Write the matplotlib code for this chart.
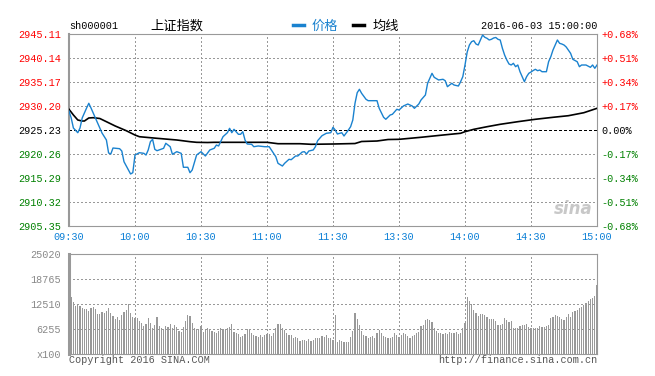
import numpy as np
import matplotlib.pyplot as plt
from matplotlib.lines import Line2D

plt.rcParams['font.family'] = ['Liberation Mono', 'Noto Sans CJK SC', 'DejaVu Sans']

prev_close = 2925.23

# minute index (0 = 09:30, 120 = 11:30/13:00, 240 = 15:00) and price
price_min = [0, 1, 2, 4, 5, 6, 8, 9, 10, 12, 15, 17, 18, 19, 20, 23, 24, 25, 27, 28,
             29, 30, 32, 34, 35, 36, 37, 38, 39, 40, 43, 44, 46, 47, 49, 51, 52, 54, 55, 56,
             58, 60, 62, 64, 66, 67, 68, 70, 72, 73, 74, 75, 77, 78, 79, 80, 81, 83, 84, 86,
             89, 91, 92, 94, 95, 97, 98, 100, 101, 103, 104, 106, 107, 108, 109, 111, 112, 113, 115, 117,
             119, 120, 121, 122, 124, 125, 127, 128, 129, 130, 131, 132, 133, 135, 136, 138, 140, 141, 143, 144,
             146, 147, 149, 150, 152, 154, 156, 157, 159, 160, 162, 163, 165, 166, 168, 170, 171, 172, 174, 175,
             177, 178, 179, 180, 181, 182, 183, 184, 185, 186, 187, 188, 189, 190, 191, 192, 193, 194, 195, 196,
             197, 198, 199, 200, 201, 202, 203, 204, 205, 206, 207, 208, 209, 210, 211, 212, 213, 214, 215, 217,
             218, 219, 220, 221, 222, 223, 224, 225, 226, 228, 229, 231, 232, 233, 235, 237, 238, 239, 240]
price = [2929.16, 2927.72, 2925.64, 2924.67, 2925.64, 2927.72, 2929.79, 2930.76, 2929.79, 2927.72,
         2924.61, 2923.16, 2920.47, 2920.26, 2921.50, 2921.36, 2920.88, 2918.66, 2916.95, 2916.12,
         2916.39, 2920.05, 2920.53, 2920.40, 2920.05, 2921.09, 2922.81, 2923.30, 2921.23, 2920.94,
         2921.44, 2922.48, 2921.77, 2920.20, 2920.74, 2920.40, 2917.51, 2917.51, 2916.39, 2916.95,
         2920.05, 2920.74, 2919.85, 2921.09, 2921.44, 2922.12, 2921.92, 2923.84, 2924.67, 2925.58,
         2924.67, 2925.37, 2924.34, 2924.34, 2924.88, 2923.16, 2922.33, 2922.27, 2921.77, 2921.92,
         2921.77, 2921.77, 2921.09, 2919.70, 2918.33, 2917.77, 2918.33, 2919.16, 2919.08, 2919.85,
         2919.85, 2920.67, 2920.74, 2920.26, 2920.88, 2921.09, 2921.77, 2923.01, 2924.05, 2924.55,
         2924.67, 2925.79, 2925.23, 2924.40, 2924.67, 2923.99, 2925.23, 2925.91, 2927.30, 2930.76,
         2932.95, 2933.66, 2932.83, 2931.59, 2931.30, 2931.30, 2931.30, 2929.72, 2927.86, 2927.45,
         2928.34, 2928.48, 2929.52, 2929.37, 2930.20, 2930.61, 2930.20, 2929.72, 2930.61, 2931.44,
         2932.48, 2934.90, 2936.97, 2936.14, 2935.59, 2935.73, 2935.44, 2934.20, 2934.90, 2934.55,
         2934.34, 2935.23, 2936.27, 2938.69, 2941.38, 2942.83, 2943.52, 2943.72, 2943.04, 2942.83,
         2943.87, 2944.90, 2944.43, 2944.22, 2943.87, 2944.01, 2944.28, 2944.39, 2944.01, 2943.87,
         2942.15, 2940.76, 2939.73, 2938.90, 2938.69, 2939.04, 2938.34, 2938.69, 2937.30, 2936.27,
         2935.23, 2936.27, 2936.97, 2937.24, 2937.55, 2937.80, 2937.51, 2937.65, 2937.30, 2937.30,
         2939.37, 2940.41, 2941.80, 2942.83, 2943.87, 2943.18, 2943.04, 2942.83, 2942.42, 2941.11,
         2939.87, 2939.37, 2938.34, 2938.69, 2938.69, 2938.21, 2938.69, 2938.01, 2938.68]

avg_min = [0, 2, 4, 6, 7, 9, 11, 14, 17, 21, 26, 30, 32, 40, 49, 55, 58, 63, 66, 90,
           95, 105, 110, 120, 130, 133, 140, 145, 150, 160, 170, 178, 180, 184, 190, 196, 204, 212, 220, 227,
           234, 240]
avg_price = [2929.52, 2928.34, 2927.30, 2927.09, 2927.09, 2927.72, 2927.78, 2927.61, 2926.95, 2926.06,
             2925.09, 2924.19, 2923.84, 2923.51, 2923.16, 2922.81, 2922.68, 2922.64, 2922.68, 2922.68,
             2922.39, 2922.39, 2922.27, 2922.33, 2922.43, 2922.85, 2922.95, 2923.26, 2923.30, 2923.72,
             2924.19, 2924.55, 2924.88, 2925.37, 2925.91, 2926.41, 2926.95, 2927.45, 2927.86, 2928.19,
             2928.81, 2929.72]

# volume per minute (x100 shares), minutes 1..240
volume = [14345, 13094, 12093, 12427, 12093, 11426, 11259, 11259, 10842, 11593,
          11843, 11259, 10008, 10008, 10592, 10175, 10842, 11593, 10175, 9591,
          8840, 9341, 8507, 9758, 10425, 11009, 12427, 10342, 9341, 8924,
          8924, 8257, 7673, 7006, 7506, 8924, 7840, 6422, 7256, 9174,
          7006, 6422, 6172, 7006, 6672, 7506, 6422, 7256, 6672, 5755,
          5588, 6672, 8340, 9758, 9508, 7673, 6589, 6172, 6172, 7006,
          5588, 6172, 6422, 6172, 5838, 5588, 5171, 5838, 6422, 6172,
          6005, 6589, 6839, 7506, 5588, 5338, 5004, 4170, 4504, 5004,
          6172, 6172, 5338, 4754, 4504, 4337, 4754, 4337, 4754, 5004,
          5004, 4504, 5171, 6422, 7506, 7506, 6422, 6005, 5338, 4754,
          4754, 4087, 4170, 3920, 3336, 3503, 3503, 3253, 3753, 3336,
          3503, 4087, 4087, 3920, 4587, 4337, 4754, 4087, 3920, 3503,
          9758, 2919, 3503, 3253, 3086, 3002, 3002, 4253, 5755, 10342,
          8757, 7256, 5755, 4754, 4504, 3920, 4337, 4504, 4087, 5171,
          6005, 5338, 4504, 4337, 3920, 4087, 4253, 5171, 4754, 4337,
          4754, 5338, 4921, 4504, 3920, 4504, 4754, 5338, 5588, 7006,
          7256, 8507, 8757, 8507, 8090, 6422, 5755, 5171, 5171, 5004,
          5171, 5004, 5588, 5171, 5338, 5588, 5004, 5171, 6422, 7673,
          14345, 13344, 12427, 11009, 10342, 9508, 10008, 10008, 9758, 9174,
          8757, 8674, 8757, 8257, 7256, 7256, 7506, 9091, 8507, 8090,
          8257, 6422, 6422, 6422, 7006, 7256, 7256, 7506, 6839, 6422,
          6422, 6422, 6422, 7006, 6839, 6839, 7089, 7256, 8924, 9341,
          9758, 9508, 9341, 8674, 8507, 9174, 10008, 9341, 10592, 10842,
          11009, 11426, 11843, 12260, 12677, 13344, 13678, 13928, 14512, 17264]

time_ticks = [0, 30, 60, 90, 120, 150, 180, 210, 240]
time_labels = ['09:30', '10:00', '10:30', '11:00', '11:30', '13:30', '14:00', '14:30', '15:00']
price_ticks = [2945.11, 2940.14, 2935.17, 2930.20, 2925.23, 2920.26, 2915.29, 2910.32, 2905.35]
pct_labels = ['+0.68%', '+0.51%', '+0.34%', '+0.17%', '0.00%', '-0.17%', '-0.34%', '-0.51%', '-0.68%']
vol_ticks = [25020, 18765, 12510, 6255, 0]
vol_labels = ['25020', '18765', '12510', '6255', 'x100']

W, H = 655, 376
fig = plt.figure(figsize=(W / 100, H / 100), dpi=100)
fig.patch.set_facecolor('white')

def box(l, t, r, b):
    return [l / W, 1 - b / H, (r - l) / W, (b - t) / H]

frame = '#999999'
grid_kw = dict(color='#999999', lw=0.75, ls=(0, (1.3, 2.7)), antialiased=False)
red, green, blue = '#ff0000', '#008000', '#0a7fd6'
fs = 7.3

# price panel
ax = fig.add_axes(box(69, 34, 597, 226))
ax.set_xlim(0, 240)
ax.set_ylim(2905.35, 2945.11)
for t in time_ticks[1:-1]:
    ax.axvline(t, **grid_kw, zorder=1)
for p in price_ticks[1:-1]:
    if p != prev_close:
        ax.axhline(p, **grid_kw, zorder=1)
ax.axhline(prev_close, color='black', lw=0.75, ls=(0, (2.7, 2.7)), antialiased=False, zorder=2)
ax.plot(avg_min, avg_price, color='black', lw=1.2, zorder=3)
ax.plot(price_min, price, color='#1a82cf', lw=1.0, zorder=4)
for s in ax.spines.values():
    s.set_color(frame)
ax.spines['left'].set_linewidth(1.5)

ax.set_xticks(time_ticks)
ax.set_xticklabels(time_labels, color=blue, fontsize=fs)
ax.set_yticks(price_ticks)
ax.set_yticklabels(['%.2f' % p for p in price_ticks], fontsize=fs)
ax.tick_params(length=0, pad=4)
ax.tick_params(axis='y', pad=6)
cols = [red] * 4 + ['black'] + [green] * 4
for lab, c in zip(ax.get_yticklabels(), cols):
    lab.set_color(c)

ax2 = ax.twinx()
ax2.set_ylim(ax.get_ylim())
ax2.set_yticks(price_ticks)
ax2.set_yticklabels(pct_labels, fontsize=fs)
ax2.tick_params(length=0, pad=3)
for lab, c in zip(ax2.get_yticklabels(), cols):
    lab.set_color(c)
for s in ax2.spines.values():
    s.set_visible(False)

ax.text(0.955, 0.09, 'sina', transform=ax.transAxes, ha='center', va='center',
        fontsize=12, fontstyle='italic', fontweight='bold', color='#c8c8c8',
        family='DejaVu Sans', zorder=0)

# volume panel
vax = fig.add_axes(box(69, 254, 597, 354))
vax.set_xlim(0, 240)
vax.set_ylim(0, 25020)
vax.bar(np.arange(1, 241), volume, width=0.58, color='#999999', antialiased=False, zorder=2)
for t in time_ticks[1:-1]:
    vax.axvline(t, **grid_kw, zorder=3)
for v in vol_ticks[1:-1]:
    vax.axhline(v, **grid_kw, zorder=3)
for s in vax.spines.values():
    s.set_color(frame)
vax.spines['left'].set_linewidth(2.2)
vax.set_xticks([])
vax.set_yticks(vol_ticks)
vax.set_yticklabels(vol_labels, fontsize=fs, color='#888888')
vax.tick_params(length=0, pad=6)

# header
fig.text(69 / W, 1 - 26 / H, 'sh000001', fontsize=fs, va='center', ha='left')
fig.text(150 / W, 1 - 26 / H, '上证指数', fontsize=9.5, va='center', ha='left',
         family=['Noto Sans CJK SC', 'DejaVu Sans'])
fig.add_artist(Line2D([293 / W, 304 / W], [1 - 25 / H] * 2, color='#1a82cf', lw=2.5))
fig.text(312 / W, 1 - 26 / H, '价格', fontsize=9.5, va='center', ha='left', color='#1a82cf',
         family=['Noto Sans CJK SC', 'DejaVu Sans'])
fig.add_artist(Line2D([353 / W, 364 / W], [1 - 25 / H] * 2, color='black', lw=2.5))
fig.text(373 / W, 1 - 26 / H, '均线', fontsize=9.5, va='center', ha='left',
         family=['Noto Sans CJK SC', 'DejaVu Sans'])
fig.text(597 / W, 1 - 26 / H, '2016-06-03 15:00:00', fontsize=fs, va='center', ha='right')

# footer
fig.text(69 / W, 1 - 360 / H, 'Copyright 2016 SINA.COM', fontsize=fs, va='center', ha='left', color='#555555')
fig.text(597 / W, 1 - 360 / H, 'http://finance.sina.com.cn', fontsize=fs, va='center', ha='right', color='#555555')

fig.savefig('out.png', dpi=100)
